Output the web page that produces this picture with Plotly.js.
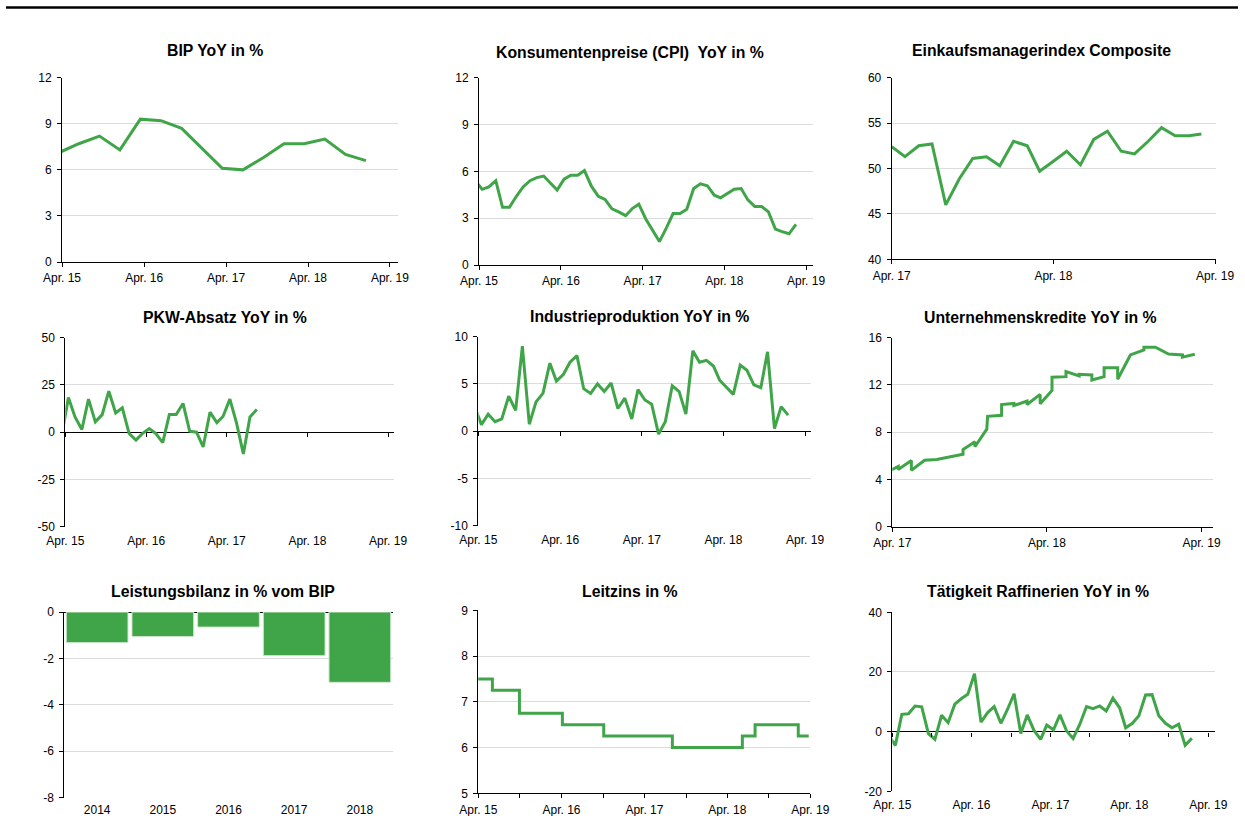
<!DOCTYPE html>
<html><head><meta charset="utf-8">
<script src="https://cdn.plot.ly/plotly-3.0.1.min.js"></script>
<style>html,body{margin:0;padding:0;background:#fff;overflow:hidden}#chart{width:1245px;height:816px}</style>
</head><body><div id="chart"></div>
<script>
// ---------------- DATA ----------------
function monthDates(startYear, startMonth, count, day) {
  const out = [];
  for (let i = 0; i < count; i++) {
    const m0 = startMonth - 1 + i;
    const y = startYear + Math.floor(m0 / 12);
    const m = (m0 % 12) + 1;
    out.push(y + '-' + String(m).padStart(2, '0') + '-' + day);
  }
  return out;
}

// BIP YoY in % (quarterly)
const bipDates = ['2015-03-15','2015-06-15','2015-09-15','2015-12-15','2016-03-15','2016-06-15','2016-09-15','2016-12-15',
                  '2017-03-15','2017-06-15','2017-09-15','2017-12-15','2018-03-15','2018-06-15','2018-09-15','2018-12-15'];
const bipValues = [7.1, 7.7, 8.2, 7.3, 9.3, 9.2, 8.7, 7.4, 6.1, 6.0, 6.8, 7.7, 7.7, 8.0, 7.0, 6.6];

// Konsumentenpreise (CPI) YoY in % (monthly, Mar 2015 - Feb 2019)
const cpiDates = monthDates(2015, 3, 48, '15');
const cpiValues = [5.4, 4.85, 5.0, 5.4, 3.7, 3.7, 4.4, 5.0, 5.4, 5.6, 5.7, 5.2, 4.8, 5.5, 5.75, 5.75, 6.05, 5.05, 4.4, 4.2, 3.6, 3.4, 3.16,
                   3.63, 3.9, 2.95, 2.2, 1.5, 2.35, 3.3, 3.3, 3.57, 4.9, 5.2, 5.08, 4.47, 4.3, 4.6, 4.85, 4.9, 4.17, 3.74, 3.74,
                   3.4, 2.3, 2.14, 2.0, 2.6];

// Einkaufsmanagerindex Composite (Apr 2017 - Mar 2019)
const pmiDates = monthDates(2017, 4, 24, '01');
const pmiValues = [52.4, 51.3, 52.5, 52.7, 46.0, 48.9, 51.1, 51.3, 50.3, 53.0, 52.5, 49.7, 50.8, 51.9, 50.4, 53.2, 54.1, 51.9,
                   51.6, 53.0, 54.5, 53.6, 53.6, 53.8];

// PKW-Absatz YoY in % (Mar 2015 - Aug 2017)
const pkwDates = monthDates(2015, 3, 30, '15');
const pkwValues = [-2.7, 18.3, 8.1, 1.4, 17.5, 5.5, 9.3, 21.7, 10.2, 12.9, -0.7, -4.2, -0.7, 1.9, -0.7, -5.5, 9.3, 9.3, 15.2, 0.5,
                   0.0, -7.8, 10.6, 5.1, 8.3, 17.5, 4.9, -11.5, 8.1, 12.0];

// Industrieproduktion YoY in % (Mar 2015 - Jan 2019)
const ipDates = monthDates(2015, 3, 47, '15');
const ipValues = [2.6, 0.7, 1.8, 1.0, 1.3, 3.7, 2.2, 9.0, 0.74, 3.1, 4.0, 7.2, 5.3, 6.0, 7.3, 8.0, 4.5, 4.0, 5.0, 4.2, 5.1, 2.4, 3.5,
                  1.3, 4.4, 3.3, 2.86, -0.3, 1.0, 4.8, 4.2, 1.8, 8.5, 7.3, 7.5, 6.9, 5.4, 4.6, 3.9, 7.0, 6.45, 4.9, 4.6, 8.4, 0.28,
                  2.6, 1.7];

// Unternehmenskredite YoY in %
const krDates = ['2017-03-16','2017-04-15','2017-04-15','2017-05-16','2017-05-16','2017-06-16','2017-07-15','2017-08-15',
                 '2017-09-15','2017-09-15','2017-10-13','2017-10-13','2017-11-10','2017-11-12','2017-12-15','2017-12-15',
                 '2018-01-13','2018-01-13','2018-02-13','2018-02-13','2018-03-16','2018-03-16','2018-04-13','2018-04-13',
                 '2018-05-16','2018-05-16','2018-06-16','2018-06-16','2018-07-16','2018-07-16','2018-08-14','2018-08-14',
                 '2018-09-15','2018-09-15','2018-10-15','2018-11-16','2018-11-16','2018-12-13','2019-01-13','2019-02-15',
                 '2019-02-15','2019-03-16'];
const krValues = [4.55, 5.1, 4.85, 5.6, 4.77, 5.63, 5.69, 5.9,
                  6.14, 6.54, 7.2, 6.77, 8.26, 9.34, 9.43, 10.34,
                  10.43, 10.26, 10.63, 10.34, 11.2, 10.4, 11.54, 12.65,
                  12.7, 13.13, 12.76, 12.9, 12.85, 12.42, 12.7, 13.46,
                  13.46, 12.48, 14.54, 14.96, 15.2, 15.19, 14.62, 14.54,
                  14.35, 14.6];

// Leistungsbilanz in % vom BIP
const lbYears = ['2014', '2015', '2016', '2017', '2018'];
const lbValues = [-1.32, -1.06, -0.65, -1.88, -3.03];

// Leitzins in % (step changes)
const lzDates = ['2015-03-04','2015-06-02','2015-09-29','2016-04-05','2016-10-04','2017-08-02','2018-06-06','2018-08-01','2019-02-07','2019-03-25'];
const lzValues = [7.5, 7.25, 6.75, 6.5, 6.25, 6.0, 6.25, 6.5, 6.25, 6.25];

// Tätigkeit Raffinerien YoY in % (Mar 2015 - Jan 2019)
const rfDates = monthDates(2015, 3, 47, '15');
const rfValues = [-1.3, -4.6, 5.8, 6.0, 8.6, 8.3, -0.7, -2.6, 5.5, 3.0, 9.2, 11.1, 12.5, 19.4, 3.2, 6.4, 8.4, 2.8, 7.5, 12.7, -0.6,
                  5.6, 0.4, -2.6, 2.2, 0.6, 5.6, 0.2, -2.3, 2.5, 8.4, 7.7, 8.6, 6.9, 11.2, 8.0, 1.3, 2.8, 5.3, 12.3, 12.4, 5.3,
                  2.8, 1.3, 2.5, -4.6, -2.2];

// Tick labels
const aprTicks15 = ['2015-04-01','2016-04-01','2017-04-01','2018-04-01','2019-04-01'];
const aprText15 = ['Apr. 15','Apr. 16','Apr. 17','Apr. 18','Apr. 19'];
const aprTicks17 = ['2017-04-01','2018-04-01','2019-04-01'];
const aprText17 = ['Apr. 17','Apr. 18','Apr. 19'];
const octTicks = ['2015-10-01','2016-10-01','2017-10-01','2018-10-01'];

// ---------------- LAYOUT ----------------
const W = 1245, H = 816;
const GREEN = '#3fa548';
const FONT = 'Liberation Sans, Arial, sans-serif';
const px = v => v / W, py = v => 1 - v / H;

const panels = [
  {title:'BIP YoY in %', tx:215, ty:50, l:62, r:398, t:77.7, b:262, type:'line', x:bipDates, y:bipValues,
   xr:['2015-04-01','2019-05-07'], yr:[0,12], dtick:3, tv:aprTicks15, tt:aprText15},
  {title:'Konsumentenpreise (CPI)  YoY in %', tx:629.5, ty:53, l:479, r:813, t:77.7, b:265, type:'line', x:cpiDates, y:cpiValues,
   xr:['2015-04-01','2019-05-02'], yr:[0,12], dtick:3, tv:aprTicks15, tt:aprText15},
  {title:'Einkaufsmanagerindex Composite', tx:1041.7, ty:50, l:891.7, r:1216, t:77.7, b:259.3, type:'line', x:pmiDates, y:pmiValues,
   xr:['2017-04-01','2019-04-03'], yr:[40,60], dtick:5, tv:aprTicks17, tt:aprText17},
  {title:'PKW-Absatz YoY in %', tx:224.7, ty:318, l:65.3, r:394, t:337.7, b:526.7, type:'line', x:pkwDates, y:pkwValues,
   xr:['2015-04-01','2019-04-28'], yr:[-50,50], dtick:25, tv:aprTicks15, tt:aprText15, neg:true},
  {title:'Industrieproduktion YoY in %', tx:639.5, ty:317, l:478.3, r:810.7, t:336.7, b:525.7, type:'line', x:ipDates, y:ipValues,
   xr:['2015-04-01','2019-04-26'], yr:[-10,10], dtick:5, tv:aprTicks15, tt:aprText15, neg:true},
  {title:'Unternehmenskredite YoY in %', tx:1040, ty:318, l:892.3, r:1213, t:337.7, b:526.7, type:'line', x:krDates, y:krValues,
   xr:['2017-04-01','2019-04-28'], yr:[0,16], dtick:4, tv:aprTicks17, tt:aprText17},
  {title:'Leistungsbilanz in % vom BIP', tx:223, ty:591, l:64.3, r:392.7, t:612, b:797.7, type:'bar', x:lbYears, y:lbValues,
   yr:[-8,0], dtick:2},
  {title:'Leitzins in %', tx:630, ty:591, l:478.3, r:810.3, t:610.3, b:793.3, type:'step', x:lzDates, y:lzValues,
   xr:['2015-04-01','2019-04-01'], yr:[5,9], dtick:1, tv:aprTicks15, tt:aprText15, minor:octTicks},
  {title:'Tätigkeit Raffinerien YoY in %', tx:1038.3, ty:591, l:892.3, r:1215, t:612.3, b:791.3, type:'line', x:rfDates, y:rfValues,
   xr:['2015-04-01','2019-05-02'], yr:[-20,40], dtick:20, tv:aprTicks15, tt:aprText15, neg:true, minor:octTicks},
];

const traces = [];
const layout = {
  width: W, height: H, autosize: false,
  margin: {l:0, r:0, t:0, b:0},
  paper_bgcolor: '#fff', plot_bgcolor: '#fff',
  showlegend: false,
  bargap: 0.06,
  font: {family: FONT, size: 12, color: '#000'},
  annotations: [],
  shapes: [{type:'line', xref:'paper', yref:'paper', x0:px(6), x1:px(1238), y0:py(7.5), y1:py(7.5),
            line:{color:'#000', width:2.5}}]
};

let extra = 10;
panels.forEach((p, i) => {
  const n = i + 1;
  const xa = n === 1 ? 'x' : 'x' + n, ya = n === 1 ? 'y' : 'y' + n;
  const xk = n === 1 ? 'xaxis' : 'xaxis' + n, yk = n === 1 ? 'yaxis' : 'yaxis' + n;
  const xdom = [px(p.l), px(p.r)], ydom = [py(p.b), py(p.t)];

  if (p.type === 'bar') {
    traces.push({type:'bar', x:p.x, y:p.y, xaxis:xa, yaxis:ya,
      marker:{color:'#40a548', line:{color:'#cfe8cf', width:1}}, hoverinfo:'none'});
    layout[xk] = {domain:xdom, anchor:ya, type:'category', showline:false, ticks:'', showgrid:false, zeroline:false,
      tickfont:{family:FONT, size:12, color:'#000'}, ticklabelstandoff:3, fixedrange:true};
  } else {
    traces.push({type:'scatter', mode:'lines', x:p.x, y:p.y, xaxis:xa, yaxis:ya,
      line:{color:GREEN, width:3, shape: p.type === 'step' ? 'hv' : 'linear'}, hoverinfo:'none'});
    layout[xk] = {domain:xdom, anchor:ya, type:'date', range:p.xr, tickmode:'array', tickvals:p.tv, ticktext:p.tt,
      showgrid:false, zeroline:false, showline:!p.neg, linecolor:'#000', linewidth:1,
      ticks: p.neg ? '' : 'outside', ticklen:4, tickcolor:'#000', tickwidth:1,
      tickfont:{family:FONT, size:12, color:'#000'}, ticklabelstandoff: p.neg ? 5 : 1, fixedrange:true};
    if (p.minor && !p.neg) {
      layout[xk].minor = {tickmode:'array', tickvals:p.minor, ticks:'outside', ticklen:4, tickcolor:'#000', showgrid:false};
    }
    if (p.neg) {
      // tick marks along the zero line
      const zeroFrac = (0 - p.yr[0]) / (p.yr[1] - p.yr[0]);
      const pos = ydom[0] + zeroFrac * (ydom[1] - ydom[0]);
      const fx = 'x' + extra, fk = 'xaxis' + extra;
      extra++;
      layout[fk] = {overlaying:xa, anchor:'free', position:pos, type:'date', range:p.xr, tickmode:'array', tickvals:p.tv,
        ticks:'outside', ticklen:4, tickcolor:'#000', tickwidth:1, showticklabels:false, showgrid:false, zeroline:false,
        showline:false, fixedrange:true};
      if (p.minor) layout[fk].minor = {tickmode:'array', tickvals:p.minor, ticks:'outside', ticklen:4, tickcolor:'#000', showgrid:false};
      traces.push({type:'scatter', mode:'lines', x:[], y:[], xaxis:fx, yaxis:ya, hoverinfo:'none', showlegend:false});
    }
  }
  // y tick values with plain hyphen minus signs
  const yvals = [], ytext = [];
  for (let v = p.yr[0]; v <= p.yr[1] + 1e-9; v += p.dtick) { yvals.push(v); ytext.push(String(v)); }
  layout[yk] = {domain:ydom, anchor:xa, range:p.yr, tickmode:'array', tickvals:yvals, ticktext:ytext,
    showgrid:true, gridcolor:'#dcdcdc', gridwidth:1,
    zeroline: !!(p.neg || p.type === 'bar'), zerolinecolor:'#000', zerolinewidth:1,
    showline:true, linecolor:'#000', linewidth:1, ticks:'outside', ticklen:4, tickcolor:'#000',
    tickfont:{family:FONT, size:12, color:'#000'}, ticklabelstandoff:3, fixedrange:true};

  layout.annotations.push({text:p.title, xref:'paper', yref:'paper', x:px(p.tx), y:py(p.ty), xanchor:'center', yanchor:'middle',
    showarrow:false, font:{family:FONT, size:15.8, color:'#000', weight:'bold'}});
});

Plotly.newPlot('chart', traces, layout, {displayModeBar:false, staticPlot:true});
</script>
</body></html>
